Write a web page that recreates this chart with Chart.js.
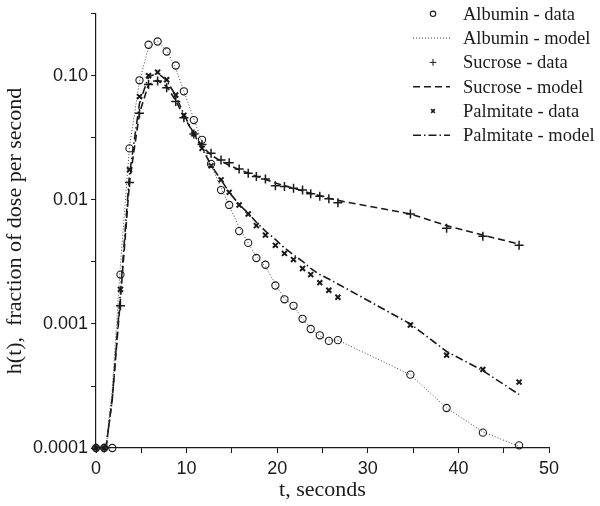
<!DOCTYPE html>
<html>
<head>
<meta charset="utf-8">
<script src="https://cdn.jsdelivr.net/npm/chart.js@4"></script>
<style>
  html, body { margin:0; padding:0; background:#fff; }
  #wrap { width:600px; height:506px; position:relative; }
</style>
</head>
<body>
<div id="wrap"><canvas id="tracer-chart"></canvas></div>
<script>
// --- data (t in seconds, h(t) fraction of dose / s) ---
const tAlbumin = [0, 0.9, 1.8, 2.7, 3.7, 4.8, 5.8, 6.8, 7.8, 8.8, 9.7, 10.8, 11.7, 12.7, 13.8, 14.7, 15.8,
  16.8, 17.7, 18.7, 19.8, 20.8, 21.8, 22.8, 23.7, 24.7, 25.7, 26.7, 34.7, 38.7, 42.7, 46.7];
const albuminData = [0.0001, 0.0001, 0.0001, 0.0025, 0.026, 0.092, 0.178, 0.189, 0.157, 0.121, 0.075, 0.044,
  0.0305, 0.0195, 0.012, 0.0091, 0.0056, 0.0045, 0.0034, 0.0030, 0.00204, 0.00158, 0.0014, 0.0011, 0.00091,
  0.00081, 0.00073, 0.00074, 0.00039, 0.00021, 0.000133, 0.000105];

const tTracer = [0, 0.9, 2.7, 3.7, 4.8, 5.8, 6.8, 7.8, 8.8, 9.7, 10.8, 11.7, 12.7, 13.8, 14.7, 15.8, 16.8,
  17.7, 18.7, 19.8, 20.8, 21.8, 22.8, 23.7, 24.7, 25.7, 26.7, 34.7, 38.7, 42.7, 46.7];
const sucroseData = [0.0001, 0.0001, 0.0014, 0.0138, 0.05, 0.085, 0.091, 0.08, 0.062, 0.046, 0.034, 0.028,
  0.0238, 0.021, 0.0199, 0.0177, 0.0164, 0.0154, 0.0147, 0.0130, 0.0128, 0.0124, 0.012, 0.0112, 0.0107,
  0.0102, 0.0095, 0.0077, 0.0059, 0.0051, 0.0043];
const palmitateData = [0.0001, 0.0001, 0.0019, 0.0175, 0.068, 0.10, 0.107, 0.093, 0.070, 0.048, 0.034, 0.026,
  0.0188, 0.0145, 0.0115, 0.0091, 0.0077, 0.0062, 0.0052, 0.0043, 0.0037, 0.0033, 0.0028, 0.0025, 0.00215,
  0.00187, 0.00164, 0.00098, 0.00056, 0.00043, 0.00034];

const tModel = [1.1, 1.8, 2.7, 3.7, 4.8, 5.8, 6.8, 7.8, 8.8, 9.7, 10.8, 11.7, 12.7, 13.8, 14.7, 15.8, 16.8,
  17.7, 18.7, 19.8, 20.8, 21.8, 22.8, 23.7, 24.7, 25.7, 26.7, 34.7, 38.7, 42.7, 46.7];
const albuminModel = [0.0001, 0.0003, 0.003, 0.027, 0.09, 0.17, 0.19, 0.16, 0.115, 0.075, 0.045, 0.029, 0.019,
  0.0125, 0.009, 0.006, 0.0045, 0.0035, 0.0029, 0.0021, 0.0016, 0.0014, 0.0011, 0.00092, 0.0008, 0.00074,
  0.00074, 0.00039, 0.00021, 0.000135, 0.000103];
const sucroseModel = [0.0001, 0.00025, 0.0016, 0.014, 0.05, 0.085, 0.092, 0.082, 0.063, 0.047, 0.034, 0.027,
  0.023, 0.0205, 0.019, 0.0175, 0.0165, 0.0155, 0.0146, 0.0137, 0.013, 0.0124, 0.0118, 0.0113, 0.0108,
  0.0103, 0.0099, 0.0077, 0.0062, 0.0052, 0.0044];
const palmitateModel = [0.0001, 0.00025, 0.0018, 0.016, 0.06, 0.098, 0.105, 0.092, 0.069, 0.049, 0.034, 0.026,
  0.019, 0.0145, 0.0115, 0.0092, 0.0078, 0.0066, 0.0056, 0.0048, 0.0041, 0.0036, 0.0032, 0.0028, 0.0025,
  0.0023, 0.0021, 0.001, 0.0006, 0.00042, 0.00027];

const yTicks  = [0.0001, 0.000316, 0.001, 0.00316, 0.01, 0.0316, 0.1, 0.316];
const yLabels = { 0.0001:'0.0001', 0.001:'0.001', 0.01:'0.01', 0.1:'0.10' };
const xLabels = [0, 10, 20, 30, 40, 50];

const pts = (ts, vs) => ts.map((t, i) => ({ x: t, y: vs[i] }));
const INK = '#1a1a1a';
const SANS = '"Liberation Sans", Arial, Helvetica, sans-serif';
const SERIF = '"Liberation Serif", "Times New Roman", serif';

const dataSet = (label, d, style, r, bw) => ({
  label, data: d, showLine: false, pointStyle: style, pointRadius: r, pointHoverRadius: r,
  borderWidth: bw, borderColor: INK, backgroundColor: 'rgba(0,0,0,0)', clip: false
});
const modelSet = (label, d, dash, w, col) => ({
  label, data: d, showLine: true, pointRadius: 0, borderWidth: w, borderColor: col,
  borderDash: dash, tension: 0, fill: false, clip: false
});

// legend drawn inside the plot, top right, like the original
const insideLegend = {
  id: 'insideLegend',
  afterDatasetsDraw(chart) {
    const { ctx, chartArea } = chart;
    const xs = chartArea.right - 116, xt = chartArea.right - 86;
    ctx.save();
    ctx.font = '18.5px ' + SERIF;
    ctx.textBaseline = 'middle';
    chart.data.datasets.forEach((ds, i) => {
      const y = chartArea.top + i * 24.3;
      ctx.strokeStyle = ds.borderColor;
      ctx.fillStyle = 'rgba(0,0,0,0)';
      if (ds.showLine === false) {
        Chart.helpers.drawPoint(ctx, { pointStyle: ds.pointStyle, radius: ds.pointRadius * 0.75,
          borderWidth: ds.borderWidth, rotation: 0 }, xs, y);
      } else {
        ctx.lineWidth = ds.borderWidth;
        ctx.setLineDash(ds.borderDash || []);
        ctx.beginPath(); ctx.moveTo(xs - 20, y); ctx.lineTo(xs + 17, y); ctx.stroke();
        ctx.setLineDash([]);
      }
      ctx.fillStyle = INK;
      ctx.fillText(ds.label, xt, y + 1);
    });
    ctx.restore();
  }
};

new Chart(document.getElementById('tracer-chart'), {
  type: 'scatter',
  data: { datasets: [
    dataSet('Albumin - data', pts(tAlbumin, albuminData), 'circle', 3.6, 1.1),
    modelSet('Albumin - model', pts(tModel, albuminModel), [1, 2], 1, '#444'),
    dataSet('Sucrose - data', pts(tTracer, sucroseData), 'cross', 4.5, 1.5),
    modelSet('Sucrose - model', pts(tModel, sucroseModel), [7, 4], 1.6, INK),
    dataSet('Palmitate - data', pts(tTracer, palmitateData), 'crossRot', 3.5, 2),
    modelSet('Palmitate - model', pts(tModel, palmitateModel), [8, 3, 1.5, 3], 1.6, INK)
  ]},
  options: {
    responsive: true, maintainAspectRatio: false, animation: false, devicePixelRatio: 1,
    layout: { padding: { top: 13, right: 51, left: 0, bottom: 0 } },
    plugins: { legend: { display: false }, tooltip: { enabled: false } },
    scales: {
      x: {
        type: 'linear', min: 0, max: 50,
        border: { display: true, color: INK, width: 1.2 },
        grid: { drawOnChartArea: false, drawTicks: true, tickLength: 5, color: INK, tickWidth: 1 },
        ticks: { stepSize: 5, color: INK, padding: 5, maxRotation: 0, autoSkip: false,
          font: { family: SANS, size: 18 },
          callback: v => xLabels.includes(v) ? String(v) : '' },
        title: { display: true, text: 't, seconds', color: INK, padding: { top: 2, bottom: 3 },
          font: { family: SERIF, size: 22 } },
        afterFit: s => { s.height = 58; }
      },
      y: {
        type: 'logarithmic', min: 0.0001, max: 0.316,
        border: { display: true, color: INK, width: 1.2 },
        grid: { drawOnChartArea: false, drawTicks: true, tickLength: 5, color: INK, tickWidth: 1 },
        afterBuildTicks: s => { s.ticks = yTicks.map(v => ({ value: v })); },
        ticks: { color: INK, padding: 3, autoSkip: false, font: { family: SANS, size: 18 },
          callback: v => yLabels[v] || '' },
        title: { display: true, text: 'h(t),  fraction of dose per second', color: INK,
          padding: { top: 2, bottom: 2 }, font: { family: SERIF, size: 22 } },
        afterFit: s => { s.width = 96; }
      }
    }
  },
  plugins: [insideLegend]
});
</script>
</body>
</html>
